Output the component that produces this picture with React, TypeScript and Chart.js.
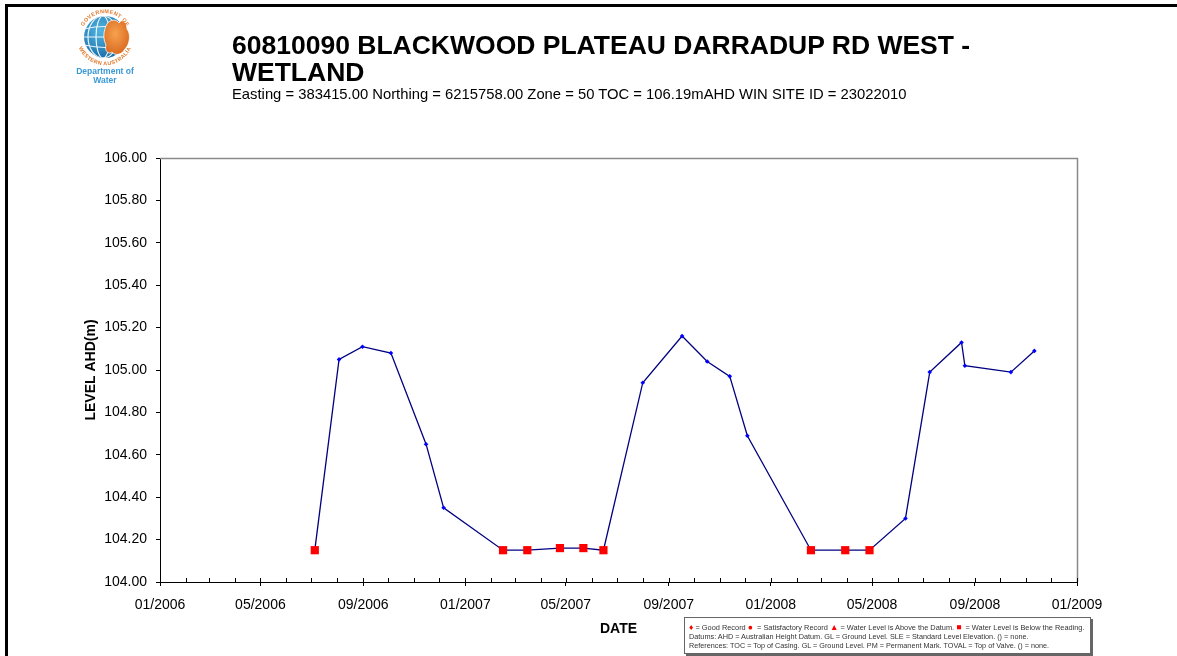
import React, { useEffect, useRef } from "react";
import { Chart, registerables } from "chart.js";

Chart.register(...registerables);

// ---------- data ----------
const DATES = [
  "2006-07-05", "2006-08-03", "2006-08-31", "2006-10-04", "2006-11-15", "2006-12-06",
  "2007-02-15", "2007-03-16", "2007-04-24", "2007-05-22", "2007-06-15", "2007-08-01",
  "2007-09-17", "2007-10-17", "2007-11-13", "2007-12-04", "2008-02-18", "2008-03-30",
  "2008-04-28", "2008-06-10", "2008-07-09", "2008-08-16", "2008-08-20", "2008-10-14",
  "2008-11-11",
];
const LEVELS = [
  104.15, 105.05, 105.11, 105.08, 104.65, 104.35,
  104.15, 104.15, 104.16, 104.16, 104.15, 104.94,
  105.16, 105.04, 104.97, 104.69, 104.15, 104.15,
  104.15, 104.30, 104.99, 105.13, 105.02, 104.99,
  105.09,
];
// "G" = Good Record, "B" = Water Level is Below the Reading
const RECORD_TYPES = [
  "B", "G", "G", "G", "G", "G",
  "B", "B", "B", "B", "B", "G",
  "G", "G", "G", "G", "B", "B",
  "B", "G", "G", "G", "G", "G",
  "G",
];
const X_TICK_LABELS = [
  "01/2006", "05/2006", "09/2006", "01/2007", "05/2007",
  "09/2007", "01/2008", "05/2008", "09/2008", "01/2009",
];
const Y_MIN = 104;
const Y_MAX = 106;
const Y_STEP = 0.2;

const TITLE_LINE_1 = "60810090 BLACKWOOD PLATEAU DARRADUP RD WEST -";
const TITLE_LINE_2 = "WETLAND";
const SUBTITLE =
  "Easting = 383415.00 Northing = 6215758.00  Zone = 50 TOC = 106.19mAHD WIN SITE ID = 23022010";

// ---------- helpers ----------
const BASE = Date.UTC(2006, 0, 1);
const DAY = 86400000;
const dayOf = (iso: string) => (Date.parse(iso + "T00:00:00Z") - BASE) / DAY;
const dayOfLabel = (lbl: string) => {
  const [m, y] = lbl.split("/");
  return (Date.UTC(+y, +m - 1, 1) - BASE) / DAY;
};

const FONT = "'Liberation Sans', Arial, Helvetica, sans-serif";

const framePlugin = {
  id: "frameAndMinorTicks",
  afterDraw(chart: any) {
    const { ctx, chartArea, scales } = chart;
    const { left, right, top, bottom } = chartArea;
    ctx.save();
    // grey plot-area border (top & right)
    ctx.strokeStyle = "#8a8a8a";
    ctx.lineWidth = 1.5;
    ctx.beginPath();
    ctx.moveTo(left, top + 0.5);
    ctx.lineTo(right + 0.5, top + 0.5);
    ctx.lineTo(right + 0.5, bottom);
    ctx.stroke();
    // monthly inward tick marks on the date axis
    const x = scales.x;
    const first = X_TICK_LABELS[0].split("/");
    const last = X_TICK_LABELS[X_TICK_LABELS.length - 1].split("/");
    let y = +first[1];
    let m = +first[0] - 1;
    const endY = +last[1];
    const endM = +last[0] - 1;
    ctx.strokeStyle = "#000";
    ctx.lineWidth = 1;
    ctx.beginPath();
    while (y < endY || (y === endY && m <= endM)) {
      const d = (Date.UTC(y, m, 1) - BASE) / DAY;
      const px = Math.round(x.getPixelForValue(d)) + 0.5;
      ctx.moveTo(px, bottom);
      ctx.lineTo(px, bottom - 4);
      m++;
      if (m > 11) {
        m = 0;
        y++;
      }
    }
    ctx.stroke();
    ctx.restore();
  },
};

function Logo() {
  return (
    <svg
      style={{ position: "absolute", left: 73.5, top: 6 }}
      width={62}
      height={62}
      viewBox="0 0 62 62"
    >
      <defs>
        <path id="ringTop" d="M 7.2,31 A 23.8,23.8 0 0 1 54.8,31" />
        <path id="ringBot" d="M 2.8,31 A 28.2,28.2 0 0 0 59.2,31" />
        <clipPath id="globeClip">
          <circle cx="31" cy="31" r="21" />
        </clipPath>
        <radialGradient id="globeGrad" cx="0.4" cy="0.35" r="0.7">
          <stop offset="0" stopColor="#52b6e2" />
          <stop offset="1" stopColor="#176ba6" />
        </radialGradient>
        <radialGradient id="ausGrad" cx="0.45" cy="0.4" r="0.7">
          <stop offset="0" stopColor="#f7a24e" />
          <stop offset="1" stopColor="#d5621b" />
        </radialGradient>
      </defs>
      <circle cx="31" cy="31" r="21" fill="url(#globeGrad)" />
      <g clipPath="url(#globeClip)" stroke="#ffffff" strokeWidth="1.2" fill="none" opacity="0.9">
        <ellipse cx="29" cy="31" rx="7" ry="21" />
        <ellipse cx="29" cy="31" rx="15" ry="21" />
        <path d="M 10,23 Q 31,18 52,23" />
        <path d="M 10,31 L 52,31" />
        <path d="M 10,39 Q 31,44 52,39" />
      </g>
      <path
        d="M 33,18 C 36,13 43,13 45,17 C 48,12 53,16 53,23 C 57,28 56,38 51,43 C 48,49 41,50 38,46 C 35,49 30,45 32,39 C 29,33 29,25 33,18 Z"
        fill="url(#ausGrad)"
        stroke="#ffffff"
        strokeWidth="0.8"
      />
      <text fontFamily={FONT} fontSize="5.4" fontWeight="bold" fill="#e0782b" letterSpacing="0.4">
        <textPath href="#ringTop" startOffset="50%" textAnchor="middle">
          GOVERNMENT OF
        </textPath>
      </text>
      <text fontFamily={FONT} fontSize="5.4" fontWeight="bold" fill="#e0782b" letterSpacing="0.4">
        <textPath href="#ringBot" startOffset="50%" textAnchor="middle">
          WESTERN AUSTRALIA
        </textPath>
      </text>
    </svg>
  );
}

const abs = (extra: React.CSSProperties): React.CSSProperties => ({
  position: "absolute",
  whiteSpace: "nowrap",
  lineHeight: 1,
  fontFamily: FONT,
  color: "#000",
  ...extra,
});

export default function App() {
  const canvasRef = useRef<HTMLCanvasElement | null>(null);

  useEffect(() => {
    const canvas = canvasRef.current;
    if (!canvas) return;
    const points = DATES.map((d, i) => ({ x: dayOf(d), y: LEVELS[i] }));
    const chart = new Chart(canvas, {
      type: "line",
      data: {
        datasets: [
          {
            data: points,
            borderColor: "#000080",
            borderWidth: 1.3,
            tension: 0,
            fill: false,
            pointStyle: (ctx: any) => (RECORD_TYPES[ctx.dataIndex] === "B" ? "rect" : "rectRot"),
            pointRadius: (ctx: any) => (RECORD_TYPES[ctx.dataIndex] === "B" ? 5.8 : 2.3),
            pointBackgroundColor: (ctx: any) =>
              RECORD_TYPES[ctx.dataIndex] === "B" ? "#ff0000" : "#0000ff",
            pointBorderColor: (ctx: any) =>
              RECORD_TYPES[ctx.dataIndex] === "B" ? "#ff0000" : "#0000ff",
            pointBorderWidth: 0,
          },
        ],
      },
      options: {
        responsive: false,
        animation: false,
        devicePixelRatio: 1,
        layout: { padding: { left: 0, top: 158, right: 100, bottom: 0 } },
        plugins: {
          legend: { display: false },
          tooltip: { enabled: false },
          title: { display: false },
        },
        scales: {
          x: {
            type: "linear",
            min: dayOfLabel(X_TICK_LABELS[0]),
            max: dayOfLabel(X_TICK_LABELS[X_TICK_LABELS.length - 1]),
            afterBuildTicks: (s: any) => {
              s.ticks = X_TICK_LABELS.map((l) => ({ value: dayOfLabel(l) }));
            },
            afterFit: (s: any) => {
              s.height = 74;
              s.paddingLeft = 0;
              s.paddingRight = 0;
            },
            ticks: {
              autoSkip: false,
              maxRotation: 0,
              minRotation: 0,
              padding: 11,
              color: "#000",
              font: { family: FONT, size: 14 },
              callback: (_v: any, i: number) => X_TICK_LABELS[i],
            },
            grid: {
              drawOnChartArea: false,
              drawTicks: true,
              tickLength: 4,
              tickColor: "#000",
            },
            border: { color: "#000", width: 1 },
            title: {
              display: true,
              text: "DATE",
              color: "#000",
              font: { family: FONT, size: 14, weight: "bold" },
              padding: { top: 0, bottom: 18 },
            },
          },
          y: {
            min: Y_MIN,
            max: Y_MAX,
            afterFit: (s: any) => {
              s.width = 160;
            },
            ticks: {
              stepSize: Y_STEP,
              padding: 9,
              color: "#000",
              font: { family: FONT, size: 14 },
              callback: (v: any) => Number(v).toFixed(2),
            },
            grid: {
              drawOnChartArea: false,
              drawTicks: true,
              tickLength: 4,
              tickColor: "#000",
            },
            border: { color: "#000", width: 1 },
            title: {
              display: true,
              text: "LEVEL AHD(m)",
              color: "#000",
              font: { family: FONT, size: 14, weight: "bold" },
              padding: { top: 83, bottom: 0 },
            },
          },
        },
      },
      plugins: [framePlugin],
    } as any);
    return () => chart.destroy();
  }, []);

  const red: React.CSSProperties = { color: "#ff0000", fontSize: 8.5 };

  return (
    <div
      style={{
        position: "absolute",
        left: 0,
        top: 0,
        width: 1177,
        height: 656,
        overflow: "hidden",
        background: "#fff",
      }}
    >
      <canvas
        ref={canvasRef}
        width={1177}
        height={656}
        style={{ position: "absolute", left: 0, top: 0, width: 1177, height: 656 }}
      />
      {/* outer frame */}
      <div style={{ position: "absolute", left: 5, top: 4, width: 1172, height: 3, background: "#000" }} />
      <div style={{ position: "absolute", left: 5, top: 4, width: 3, height: 652, background: "#000" }} />

      <Logo />
      <div style={abs({ left: 70, width: 70, top: 67, fontSize: 8.5, fontWeight: "bold", color: "#3a98d6", textAlign: "center" })}>
        Department of
      </div>
      <div style={abs({ left: 70, width: 70, top: 76, fontSize: 8.5, fontWeight: "bold", color: "#3a98d6", textAlign: "center" })}>
        Water
      </div>

      <div style={abs({ left: 232, top: 32.2, fontSize: 26.5, fontWeight: "bold" })}>{TITLE_LINE_1}</div>
      <div style={abs({ left: 232, top: 59.2, fontSize: 26.5, fontWeight: "bold" })}>{TITLE_LINE_2}</div>
      <div style={abs({ left: 232, top: 87.3, fontSize: 14.8 })}>{SUBTITLE}</div>

      {/* legend box */}
      <div
        style={{
          position: "absolute",
          left: 684,
          top: 617,
          width: 405,
          height: 35,
          border: "1px solid #666",
          boxShadow: "2px 2px 0 #666",
          background: "#fff",
        }}
      />
      <div style={abs({ left: 689, top: 623, fontSize: 7.4, color: "#333" })}>
        <span style={red}>♦</span> = Good Record <span style={red}>●</span> &nbsp;= Satisfactory Record{" "}
        <span style={red}>▲</span> = Water Level is Above the Datum. <span style={red}>■</span> &nbsp;= Water Level
        is Below the Reading.
      </div>
      <div style={abs({ left: 689, top: 632.6, fontSize: 7.3, color: "#333" })}>
        Datums: AHD = Australian Height Datum. GL = Ground Level. SLE = Standard Level Elevation. () = none.
      </div>
      <div style={abs({ left: 689, top: 641.6, fontSize: 7.25, color: "#333" })}>
        References: TOC = Top of Casing. GL = Ground Level. PM = Permanent Mark. TOVAL = Top of Valve. () = none.
      </div>
    </div>
  );
}
